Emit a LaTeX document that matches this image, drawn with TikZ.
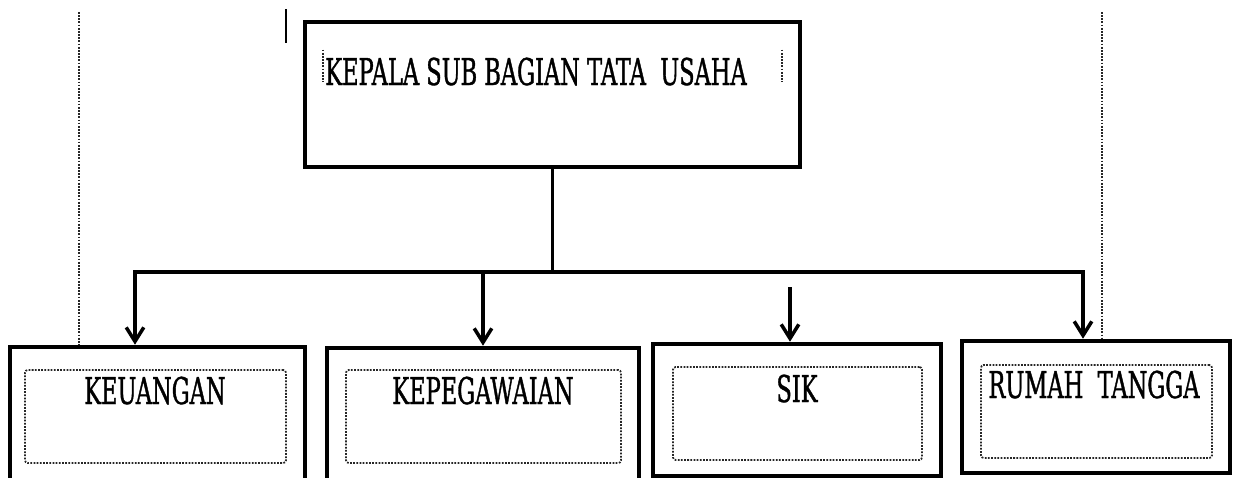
\documentclass[tikz,border=0pt]{standalone}
\usepackage{fontspec}
\setmainfont{DejaVu Serif}[FakeStretch=0.61, FakeBold=1]
\usetikzlibrary{arrows.meta}

\begin{document}
\begin{tikzpicture}[x=0.02cm, y=-0.02cm,
    unit/.style = {rectangle, draw, line width=2.6pt, inner sep=0pt},
    textbox/.style = {rectangle, draw=black!85, line width=1pt, dash pattern=on 1pt off 0.8pt, rounded corners=1.5pt, inner sep=0pt},
    caption/.style = {inner sep=0pt, font=\fontsize{21}{24}\selectfont},
    link/.style = {line width=2pt},
    arrow/.style = {link, -{Straight Barb[length=8pt, width=10pt]}},
    guide/.style = {draw=black!85, line width=1pt, dash pattern=on 1pt off 0.8pt}]
  \useasboundingbox (0, 0) rectangle (1237, 477);

  % Head of the section.
  \node at (552.5, 94.5) [unit, minimum width=9.9cm, minimum height=2.9cm, name=Kepala] {};
  \node at (552.5, 66) [inner sep=0pt, minimum width=9.18cm, minimum height=0.64cm, name=KepalaMargin] {};
  \node at (325, 85) [caption, anchor=base west, name=KepalaText] {KEPALA SUB BAGIAN TATA\ \ USAHA};
  \draw [guide] (KepalaMargin.north west) -- (KepalaMargin.south west);
  \draw [guide] (KepalaMargin.north east) -- (KepalaMargin.south east);

  % Units.
  \node at (157.5, 413.5) [unit, minimum width=5.9cm, minimum height=2.66cm, name=Keuangan] {};
  \node at (483, 414) [unit, minimum width=6.24cm, minimum height=2.64cm, name=Kepegawaian] {};
  \node at (797, 410) [unit, minimum width=5.76cm, minimum height=2.64cm, name=Sik] {};
  \node at (1096, 407) [unit, minimum width=5.36cm, minimum height=2.64cm, name=Rumah] {};

  % Dotted text frames inside the units.
  \node at (155.5, 416.5) [textbox, minimum width=5.22cm, minimum height=1.86cm, name=KeuanganFrame] {};
  \node at (483.5, 416.5) [textbox, minimum width=5.5cm, minimum height=1.86cm, name=KepegawaianFrame] {};
  \node at (797.5, 413.5) [textbox, minimum width=4.98cm, minimum height=1.86cm, name=SikFrame] {};
  \node at (1096.5, 411.5) [textbox, minimum width=4.62cm, minimum height=1.86cm, name=RumahFrame] {};

  \node at (155, 404) [caption, anchor=base, name=KeuanganText] {KEUANGAN};
  \node at (483, 404) [caption, anchor=base, name=KepegawaianText] {KEPEGAWAIAN};
  \node at (797, 402) [caption, anchor=base, name=SikText] {SIK};
  \node at (1094, 398) [caption, anchor=base, name=RumahText] {RUMAH\ \ TANGGA};

  % Bus between head and units.
  \coordinate (busL) at (135, 272);
  \coordinate (busR) at (1083, 272);
  \coordinate (junction) at (Kepala.south |- busL);
  \coordinate (sikStart) at (790, 287);

  \draw [link] (Kepala.south) -- (junction);
  \draw [arrow] (junction) -| (busL |- Keuangan.north);
  \draw [arrow] (junction) -| (busR |- Rumah.north);
  \draw [arrow] (Kepegawaian.north |- busL) -- (Kepegawaian.north);
  \draw [arrow] (sikStart) -- (sikStart |- Sik.north);

  % Page margin guides.
  \coordinate (guideL) at (79, 12);
  \coordinate (guideR) at (1102, 12);
  \draw [guide] (guideL) -- (guideL |- Keuangan.north);
  \draw [guide] (guideR) -- (guideR |- Rumah.north);

  % Text cursor.
  \coordinate (cursor) at (286, 9);
  \draw [line width=1.2pt] (cursor) -- ++(0, 34);
\end{tikzpicture}
\end{document}
